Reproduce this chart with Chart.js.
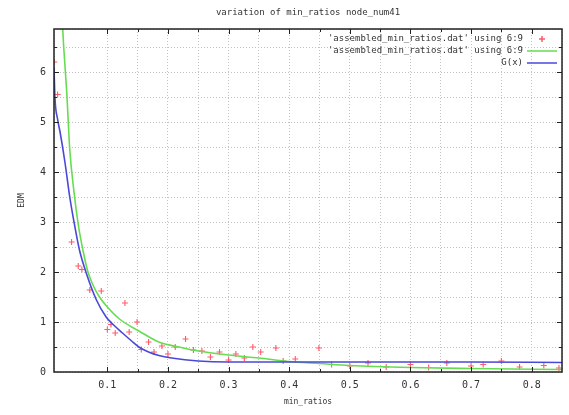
<!DOCTYPE html>
<html lang="en">
<head>
  <meta charset="utf-8" />
  <title>variation of min_ratios node_num41</title>
  <style>
html, body { margin: 0; padding: 0; background: #fff; }
#chartContainer { width: 569px; height: 415px; }
  </style>
</head>
<body>
  <div id="chartContainer">
    <canvas id="myChart" width="569" height="415"></canvas>
  </div>
  <script src="https://cdn.jsdelivr.net/npm/chart.js"></script>
  <script>

// data
const chartTitle = 'variation of min_ratios node_num41';
const xTitle = 'min_ratios';
const yTitle = 'EDM';
const seriesLabels = [
  "'assembled_min_ratios.dat' using 6:9",
  "'assembled_min_ratios.dat' using 6:9",
  'G(x)'
];
const xMin = 0.012, xMax = 0.85, yMin = 0, yMax = 6.86;

// red points
const pointX = [0.0125, 0.018, 0.041, 0.052, 0.058, 0.071, 0.09, 0.1, 0.106, 0.113,
  0.129, 0.136, 0.149, 0.156, 0.168, 0.177, 0.19, 0.2, 0.212, 0.229,
  0.242, 0.256, 0.27, 0.285, 0.3, 0.312, 0.326, 0.34, 0.353, 0.378,
  0.39, 0.41, 0.449, 0.47, 0.5, 0.53, 0.56, 0.6, 0.63, 0.66,
  0.7, 0.72, 0.75, 0.78, 0.82, 0.845];
const pointY = [6.2, 5.55, 2.6, 2.12, 2.05, 1.64, 1.62, 0.85, 0.95, 0.78,
  1.38, 0.8, 1.0, 0.45, 0.6, 0.4, 0.52, 0.36, 0.5, 0.66,
  0.44, 0.42, 0.3, 0.4, 0.24, 0.36, 0.28, 0.5, 0.4, 0.48,
  0.22, 0.26, 0.48, 0.15, 0.12, 0.18, 0.1, 0.15, 0.09, 0.18,
  0.12, 0.15, 0.22, 0.1, 0.13, 0.08];

// green smoothed line
const smoothX = [0.024, 0.028, 0.033, 0.038, 0.045, 0.052, 0.06, 0.068, 0.077, 0.087,
  0.1, 0.12, 0.152, 0.185, 0.218, 0.25, 0.3, 0.35, 0.4, 0.45,
  0.5, 0.6, 0.7, 0.85];
const smoothY = [7.4, 6.5, 5.6, 4.45, 3.6, 2.95, 2.42, 2.0, 1.72, 1.5,
  1.3, 1.06, 0.82, 0.6, 0.5, 0.42, 0.34, 0.28, 0.21, 0.17,
  0.13, 0.09, 0.07, 0.05];

// blue G(x)
const fitX = [0.012, 0.0135, 0.018, 0.022, 0.03, 0.038, 0.045, 0.054, 0.066, 0.082,
  0.098, 0.107, 0.125, 0.14, 0.152, 0.168, 0.185, 0.206, 0.25, 0.3,
  0.4, 0.5, 0.6, 0.7, 0.85];
const fitY = [6.1, 5.5, 5.05, 4.8, 4.2, 3.5, 3.0, 2.44, 1.95, 1.44,
  1.1, 0.98, 0.78, 0.62, 0.5, 0.4, 0.33, 0.28, 0.22, 0.2,
  0.2, 0.2, 0.2, 0.2, 0.19];

const colors = ['#ff5a6a', '#66dd50', '#4a48d8'];
const fontFamily = "'DejaVu Sans Mono', monospace";
const textColor = '#333';

function toPoints(xs, ys) {
  return xs.map((x, i) => ({x: x, y: ys[i]}));
}
function isTenth(v) {
  const r = Math.round(v * 10);
  return Math.abs(v * 10 - r) < 1e-6;
}

// gnuplot style box, inward tick marks and key
const gnuplotFrame = {
  id: 'gnuplotFrame',
  afterDraw(chart) {
    const {ctx, chartArea: a, scales} = chart;
    ctx.save();
    ctx.strokeStyle = '#222';
    ctx.lineWidth = 1;
    ctx.beginPath();
    scales.x.ticks.forEach(t => {
      if (t.value <= xMin + 1e-6 || t.value >= xMax - 1e-6) return;
      const px = Math.round(scales.x.getPixelForValue(t.value)) + 0.5;
      const len = isTenth(t.value) ? 5 : 3;
      ctx.moveTo(px, a.bottom); ctx.lineTo(px, a.bottom - len);
      ctx.moveTo(px, a.top); ctx.lineTo(px, a.top + len);
    });
    scales.y.ticks.forEach(t => {
      if (t.value <= yMin || t.value >= yMax - 1e-6) return;
      const py = Math.round(scales.y.getPixelForValue(t.value)) + 0.5;
      const len = Number.isInteger(t.value) ? 5 : 3;
      ctx.moveTo(a.left, py); ctx.lineTo(a.left + len, py);
      ctx.moveTo(a.right, py); ctx.lineTo(a.right - len, py);
    });
    ctx.stroke();
    ctx.lineWidth = 1.5;
    ctx.strokeRect(a.left, a.top, a.right - a.left, a.bottom - a.top);

    // key, top right inside the plot
    ctx.font = '9px ' + fontFamily;
    ctx.textAlign = 'right';
    ctx.textBaseline = 'middle';
    chart.data.datasets.forEach((ds, i) => {
      const y = a.top + 10 + i * 12;
      ctx.fillStyle = textColor;
      ctx.fillText(ds.label, a.right - 39, y);
      ctx.strokeStyle = ds.borderColor;
      ctx.lineWidth = 1.5;
      ctx.beginPath();
      if (i === 0) {
        const cx = a.right - 20;
        ctx.moveTo(cx - 3, y); ctx.lineTo(cx + 3, y);
        ctx.moveTo(cx, y - 3); ctx.lineTo(cx, y + 3);
      } else {
        ctx.moveTo(a.right - 35, y); ctx.lineTo(a.right - 5, y);
      }
      ctx.stroke();
    });
    ctx.restore();
  }
};

const config = {
  type: 'scatter',
  data: {
    datasets: [{
      label: seriesLabels[0],
      data: toPoints(pointX, pointY),
      order: 3,
      showLine: false,
      pointStyle: 'cross',
      pointRadius: 3,
      borderColor: colors[0],
      backgroundColor: colors[0],
      pointBorderWidth: 1.1
    }, {
      label: seriesLabels[1],
      data: toPoints(smoothX, smoothY),
      order: 2,
      showLine: true,
      pointRadius: 0,
      borderColor: colors[1],
      borderWidth: 1.6,
      cubicInterpolationMode: 'monotone'
    }, {
      label: seriesLabels[2],
      data: toPoints(fitX, fitY),
      order: 1,
      showLine: true,
      pointRadius: 0,
      borderColor: colors[2],
      borderWidth: 1.6,
      cubicInterpolationMode: 'monotone'
    }]
  },
  options: {
    responsive: false,
    animation: false,
    layout: { padding: { left: 0, right: 2, top: 0, bottom: 0 } },
    plugins: {
      legend: { display: false },
      title: { display: false },
      tooltip: { enabled: false }
    },
    scales: {
      x: {
        type: 'linear',
        position: 'bottom',
        min: xMin,
        max: xMax,
        ticks: {
          stepSize: 0.05,
          autoSkip: false,
          maxRotation: 0,
          padding: 7,
          color: textColor,
          font: { family: fontFamily, size: 10 },
          callback: function (value) {
            return (isTenth(value) && value > 0.05) ? value.toFixed(1) : '';
          }
        },
        grid: { color: '#c2c2c2', drawTicks: false },
        border: { display: false, dash: [1, 2] },
        title: {
          display: true,
          text: xTitle,
          color: textColor,
          font: { family: fontFamily, size: 8 },
          padding: { top: 0, bottom: 8 }
        },
        afterFit: function (scale) { scale.height = 43; }
      },
      top: {
        type: 'linear',
        position: 'top',
        min: xMin,
        max: xMax,
        ticks: { display: false },
        grid: { display: false },
        border: { display: false },
        title: {
          display: true,
          text: chartTitle,
          color: textColor,
          font: { family: fontFamily, size: 9 },
          padding: { top: 7, bottom: 0 }
        },
        afterFit: function (scale) { scale.height = 29; }
      },
      y: {
        type: 'linear',
        position: 'left',
        min: yMin,
        max: yMax,
        ticks: {
          stepSize: 0.5,
          autoSkip: false,
          padding: 8,
          color: textColor,
          font: { family: fontFamily, size: 10 },
          callback: function (value) {
            return Number.isInteger(value) ? String(value) : '';
          }
        },
        grid: { color: '#c2c2c2', drawTicks: false },
        border: { display: false, dash: [1, 2] },
        title: {
          display: true,
          text: yTitle,
          color: textColor,
          font: { family: fontFamily, size: 8 },
          padding: { top: 17, bottom: 0 }
        },
        afterFit: function (scale) { scale.width = 54; }
      }
    }
  },
  plugins: [gnuplotFrame]
};

const chart = new Chart(document.getElementById('myChart'), config);

  </script>
</body>
</html>
